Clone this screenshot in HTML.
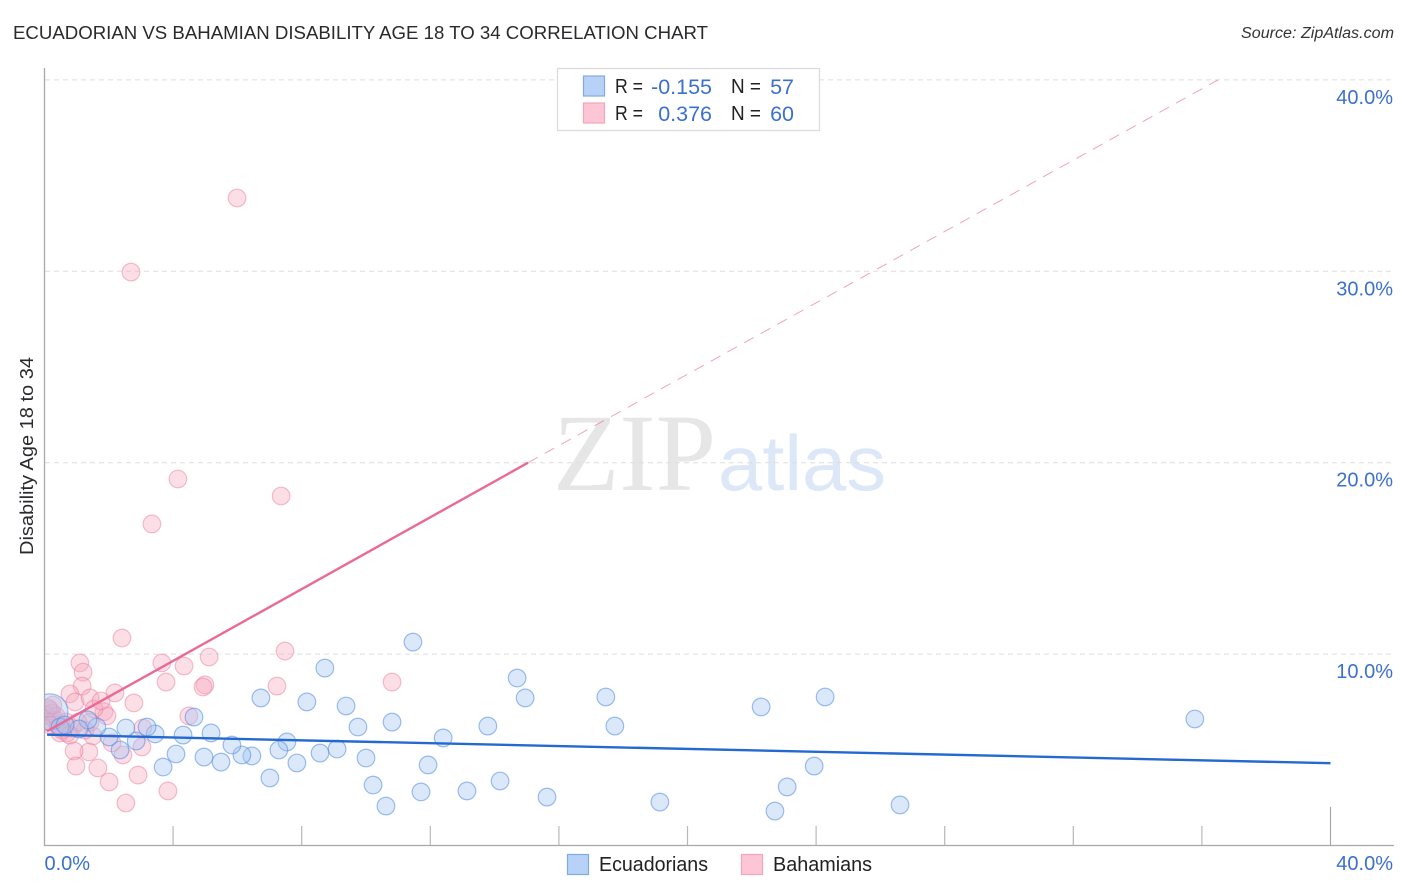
<!DOCTYPE html>
<html lang="en">
<head>
<meta charset="utf-8">
<title>Ecuadorian vs Bahamian Disability Age 18 to 34 Correlation Chart</title>
<style>
html,body{margin:0;padding:0;background:#fff;width:1406px;height:892px;overflow:hidden}
svg{display:block;font-family:"Liberation Sans",sans-serif}
</style>
</head>
<body>
<svg id="chart" xmlns="http://www.w3.org/2000/svg" width="1406" height="892" viewBox="0 0 1406 892">
  <defs>
    <clipPath id="plot-clip"><rect x="45" y="60" width="1349" height="785"/></clipPath>
  </defs>
  <text x="13" y="39" font-size="18.5" fill="#2a2a2e" textLength="695" lengthAdjust="spacingAndGlyphs">ECUADORIAN VS BAHAMIAN DISABILITY AGE 18 TO 34 CORRELATION CHART</text>
  <text x="1394" y="38" font-size="15.5" font-style="italic" fill="#333" text-anchor="end" textLength="153" lengthAdjust="spacingAndGlyphs">Source: ZipAtlas.com</text>

  <g>
    <text x="553" y="490" font-family="'Liberation Serif',serif" font-size="110" fill="#e6e6e6" textLength="163" lengthAdjust="spacingAndGlyphs">ZIP</text>
    <text x="718" y="490" font-size="78" font-weight="400" fill="#dce7f7" textLength="168" lengthAdjust="spacingAndGlyphs">atlas</text>
  </g>

  <g id="grid"></g>
  <g id="pink-points" clip-path="url(#plot-clip)"></g>
  <g id="blue-points" clip-path="url(#plot-clip)"></g>
  <g id="trends"></g>

  <g id="axes">
    <line x1="44.5" y1="68" x2="44.5" y2="846" stroke="#a8a8a8" stroke-width="1.3"/>
    <line x1="44" y1="845.5" x2="1394" y2="845.5" stroke="#a8a8a8" stroke-width="1.3"/>
  </g>
  <g id="x-ticks"></g>
  <g id="y-labels"></g>
  <g id="x-labels"></g>

  <text transform="translate(33 456) rotate(-90)" font-size="18.5" fill="#2a2a2e" text-anchor="middle" textLength="198" lengthAdjust="spacingAndGlyphs">Disability Age 18 to 34</text>

  <g>
    <rect x="557.5" y="68.5" width="262" height="62" fill="#fff" stroke="#dcdcdc" stroke-width="1.3"/>
    <rect x="583.5" y="76" width="21" height="20" fill="#b7d2f6" stroke="#7fabe6" stroke-width="1.2"/>
    <rect x="583.5" y="103" width="21" height="20" fill="#fcc6d6" stroke="#f2a5bd" stroke-width="1.2"/>
    <g font-size="20" fill="#222">
      <text x="615" y="93" textLength="28" lengthAdjust="spacingAndGlyphs">R =</text>
      <text x="731" y="93" textLength="30" lengthAdjust="spacingAndGlyphs">N =</text>
      <text x="615" y="120" textLength="28" lengthAdjust="spacingAndGlyphs">R =</text>
      <text x="731" y="120" textLength="30" lengthAdjust="spacingAndGlyphs">N =</text>
    </g>
    <g font-size="21.5" fill="#3c70cf" text-anchor="end">
      <text x="712" y="94">-0.155</text>
      <text x="794" y="94">57</text>
      <text x="712" y="121">0.376</text>
      <text x="794" y="121">60</text>
    </g>
  </g>

  <g>
    <rect x="567.5" y="854.5" width="21" height="20" fill="#b7d2f6" stroke="#7fabe6" stroke-width="1.2"/>
    <text x="599" y="871" font-size="20" fill="#222" textLength="109" lengthAdjust="spacingAndGlyphs">Ecuadorians</text>
    <rect x="741.5" y="854.5" width="21" height="20" fill="#fcc6d6" stroke="#f2a5bd" stroke-width="1.2"/>
    <text x="773" y="871" font-size="20" fill="#222" textLength="99" lengthAdjust="spacingAndGlyphs">Bahamians</text>
  </g>
</svg>
<script>
const ecuadorianX = [35.78,24.28,22.29,23.94,23.10,22.72,26.61,19.14,17.74,17.46,15.63,14.95,14.70,14.17,13.79,13.14,12.40,11.93,11.71,11.46,10.81,10.62,10.22,10.00,9.75,9.38,9.10,8.72,8.57,8.16,7.85,7.54,7.29,7.01,6.73,6.45,6.14,5.83,5.49,5.18,4.96,4.65,4.31,4.09,3.69,3.44,3.19,2.85,2.53,2.35,2.01,1.63,1.35,1.07,0.48,0.64];
const ecuadorianY = [6.61,7.76,7.24,4.15,3.06,1.80,2.12,2.27,6.24,7.76,2.53,7.71,8.75,3.37,6.24,2.85,5.62,4.21,2.80,10.63,6.45,2.06,3.16,4.57,6.19,7.29,5.04,9.27,4.83,7.50,4.31,5.41,4.99,3.53,7.71,4.68,4.73,5.25,4.36,5.88,4.62,6.71,5.77,4.78,4.10,5.83,6.19,5.46,6.14,4.99,5.67,6.19,6.56,6.09,6.19,6.30];
const ecuadorianLargeX = [0.17];
const ecuadorianLargeY = [6.98];
const bahamianX = [5.99,2.69,4.15,7.36,3.34,2.41,1.10,1.20,1.17,0.79,0.95,1.42,2.19,2.78,5.12,4.34,3.65,3.78,4.99,4.93,7.23,7.48,10.81,4.49,1.85,1.94,1.54,1.76,1.51,1.38,0.92,0.98,1.66,2.01,2.44,2.53,2.91,3.84,3.03,3.06,2.10,0.70,0.54,0.17,0.05,0.23,0.33,0.08,0.42,0.67,0.86,0.36,1.26,1.42,0.17,0.48,1.04,0.79,0.11,0.26];
const bahamianY = [33.83,29.96,19.15,18.26,16.80,10.84,9.54,9.06,8.33,7.92,7.50,7.71,7.97,7.45,9.85,9.38,9.54,8.54,8.39,8.28,8.33,10.16,8.54,6.77,6.99,6.77,7.13,7.55,5.72,4.89,4.94,4.15,4.05,3.32,4.73,2.22,3.68,2.85,5.15,6.14,5.36,5.88,6.03,7.08,6.82,6.92,6.56,6.45,6.30,6.45,6.14,6.77,6.03,6.45,6.30,5.88,6.45,5.77,7.18,7.34];
const ecuadorianTrendX = [0.08, 40];
const ecuadorianTrendY = [5.79, 4.30];
const bahamianSolidX = [0.08, 15.04];
const bahamianSolidY = [5.97, 20];
const bahamianDashedX = [15.04, 36.5];
const bahamianDashedY = [20, 40];
const xMinorTicks = [4,8,12,16,20,24,28,32,36];
const xMajorTicks = [40];
const yTickValues = [10,20,30,40];
const yTickLabels = ["10.0%","20.0%","30.0%","40.0%"];
const xTickValues = [0,40];
const xTickLabels = ["0.0%","40.0%"];

const NS = "http://www.w3.org/2000/svg";
function xScale(v){ return 44.5 + v * 32.15; }
function yScale(v){ return 845.5 - v * 19.14; }
function make(tag, parentId, props){
  const el = document.createElementNS(NS, tag);
  for (const k in props) el.setAttribute(k, props[k]);
  document.getElementById(parentId).appendChild(el);
  return el;
}

yTickValues.forEach(function(v, i){
  const grid = make("line", "grid", {x1:45, x2:1394, y1:yScale(v), y2:yScale(v), stroke:"#dedede", "stroke-width":1, "stroke-dasharray":"5 4"});
  
  
  const label = make("text", "y-labels", {x:1393, y:yScale(v)+24, "font-size":20, fill:"#3c70cf", "text-anchor":"end"});
  label.textContent = yTickLabels[i];
  
  
});

xTickValues.forEach(function(v, i){
  const label = make("text", "x-labels", {x: i === 0 ? xScale(v) : 1393, y:870, "font-size":20, fill:"#3c70cf", "text-anchor": i === 0 ? "start" : "end"});
  label.textContent = xTickLabels[i];
  
  
});

xMinorTicks.forEach(function(v){
  const t = make("line", "x-ticks", {x1:xScale(v), x2:xScale(v), y1:826, y2:845, stroke:"#b8b8b8", "stroke-width":1.2});
  
  
});
xMajorTicks.forEach(function(v){
  const t = make("line", "x-ticks", {x1:xScale(v), x2:xScale(v), y1:807, y2:845, stroke:"#a8a8a8", "stroke-width":1.2});
  
  
});

bahamianX.forEach(function(v, i){
  const c = make("circle", "pink-points", {cx:xScale(v), cy:yScale(bahamianY[i]), r:8.8, fill:"#f7a8c0", "fill-opacity":0.38, stroke:"#ea7fa0", "stroke-opacity":0.5, "stroke-width":1.2});
  
  
});
ecuadorianLargeX.forEach(function(v, i){
  const c = make("circle", "blue-points", {cx:xScale(v), cy:yScale(ecuadorianLargeY[i]), r:18, fill:"#a4c6f2", "fill-opacity":0.4, stroke:"#4f8be0", "stroke-opacity":0.55, "stroke-width":1.2});
  
  
});
ecuadorianX.forEach(function(v, i){
  const c = make("circle", "blue-points", {cx:xScale(v), cy:yScale(ecuadorianY[i]), r:8.8, fill:"#a4c6f2", "fill-opacity":0.4, stroke:"#4f8be0", "stroke-opacity":0.55, "stroke-width":1.2});
  
  
});

const dashed = make("line", "trends", {x1:xScale(bahamianDashedX[0]), y1:yScale(bahamianDashedY[0]), x2:xScale(bahamianDashedX[1]), y2:yScale(bahamianDashedY[1]), stroke:"#ec7ba0", "stroke-opacity":0.7, "stroke-width":1, "stroke-dasharray":"11 8"});


const solid = make("line", "trends", {x1:xScale(bahamianSolidX[0]), y1:yScale(bahamianSolidY[0]), x2:xScale(bahamianSolidX[1]), y2:yScale(bahamianSolidY[1]), stroke:"#ea6a97", "stroke-width":2.4});


const blue = make("line", "trends", {x1:xScale(ecuadorianTrendX[0]), y1:yScale(ecuadorianTrendY[0]), x2:xScale(ecuadorianTrendX[1]), y2:yScale(ecuadorianTrendY[1]), stroke:"#2469d2", "stroke-width":2.4});


</script>
</body>
</html>
